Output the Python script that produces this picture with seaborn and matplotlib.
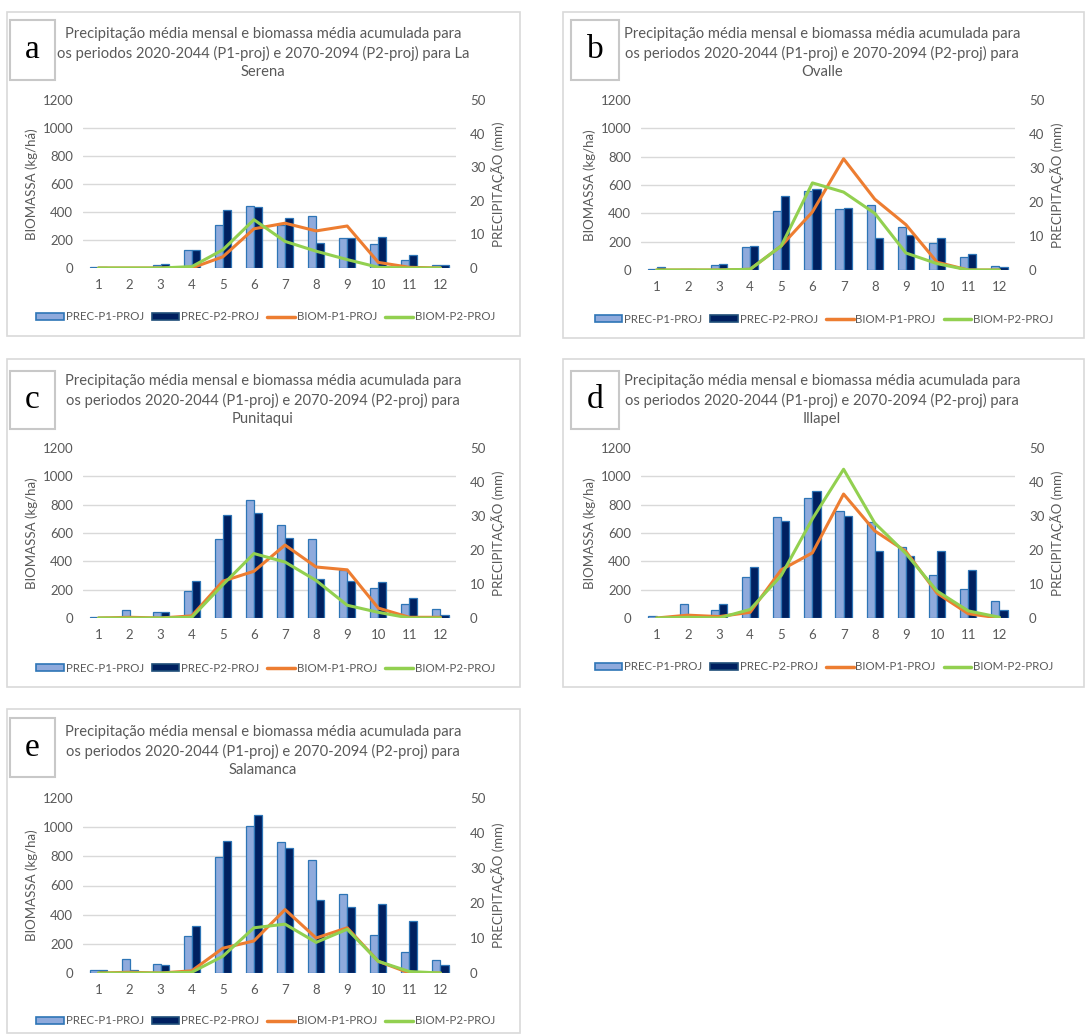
import numpy as np
import pandas as pd
import matplotlib
matplotlib.use("Agg")
import matplotlib.pyplot as plt
import seaborn as sns
from matplotlib.patches import Patch, Rectangle
from matplotlib.lines import Line2D

#  DATA

MESES = list(range(1, 13))

CIDADES = ["La Serena", "Ovalle", "Punitaqui", "Illapel", "Salamanca"]
LETRAS = ["a", "b", "c", "d", "e"]
UNIDADE_BIOM = ["(kg/há)", "(kg/ha)", "(kg/ha)", "(kg/ha)", "(kg/ha)"]

# precipitação média mensal (mm)
prec_p1 = {
    "La Serena": [0.2, 0.0, 0.8, 5.4, 12.9, 18.5, 12.9, 15.6, 9.0, 7.1, 2.5, 0.8],
    "Ovalle":    [0.2, 0.4, 1.5, 6.9, 17.3, 23.3, 17.9, 19.0, 12.5, 7.9, 3.8, 1.3],
    "Punitaqui": [0.2, 2.5, 1.7, 7.9, 23.1, 34.8, 27.3, 23.3, 14.2, 8.8, 4.0, 2.7],
    "Illapel":   [0.6, 4.0, 2.3, 12.1, 29.6, 35.2, 31.5, 28.3, 21.0, 12.7, 8.5, 5.0],
    "Salamanca": [0.8, 4.0, 2.5, 10.6, 33.1, 41.9, 37.3, 32.3, 22.5, 11.0, 6.0, 3.8],
}
prec_p2 = {
    "La Serena": [0.4, 0.0, 1.2, 5.4, 17.3, 18.1, 14.8, 7.3, 9.0, 9.2, 4.0, 0.8],
    "Ovalle":    [0.8, 0.2, 1.7, 7.1, 21.7, 23.8, 18.3, 9.4, 10.4, 9.4, 4.6, 1.0],
    "Punitaqui": [0.4, 0.0, 1.7, 10.8, 30.4, 30.8, 23.5, 11.5, 10.8, 10.6, 5.8, 0.8],
    "Illapel":   [0.4, 0.0, 4.0, 15.0, 28.5, 37.3, 30.0, 19.8, 18.1, 19.6, 14.0, 2.5],
    "Salamanca": [0.8, 0.8, 2.3, 13.5, 37.7, 45.2, 35.6, 20.8, 19.0, 19.6, 14.8, 2.3],
}

# biomassa média acumulada (kg/ha)
biom_p1 = {
    "La Serena": [0, 0, 0, 0, 80, 280, 320, 265, 300, 40, 5, 0],
    "Ovalle":    [0, 0, 0, 5, 170, 410, 785, 500, 320, 55, 0, 0],
    "Punitaqui": [0, 5, 0, 15, 260, 330, 515, 360, 340, 70, 5, 5],
    "Illapel":   [0, 20, 10, 40, 340, 460, 875, 615, 470, 175, 30, 0],
    "Salamanca": [0, 5, 0, 15, 170, 220, 435, 240, 310, 80, 0, 0],
}
biom_p2 = {
    "La Serena": [0, 0, 0, 10, 130, 345, 190, 120, 60, 5, 0, 0],
    "Ovalle":    [0, 0, 0, 5, 170, 615, 550, 400, 120, 45, 0, 0],
    "Punitaqui": [0, 0, 0, 5, 235, 455, 395, 265, 90, 40, 0, 0],
    "Illapel":   [0, 5, 0, 60, 300, 700, 1050, 670, 455, 190, 50, 5],
    "Salamanca": [0, 0, 0, 5, 115, 310, 335, 210, 300, 80, 10, 0],
}

SERIES_PREC = ["PREC-P1-PROJ", "PREC-P2-PROJ"]
SERIES_BIOM = ["BIOM-P1-PROJ", "BIOM-P2-PROJ"]

#  STYLE

sns.set_theme(style="white")
plt.rcParams["font.family"] = ["Lato", "DejaVu Sans"]

COR_P1 = "#8FAADC"
COR_P2 = "#002060"
COR_BORDA = "#2E75B6"
COR_LARANJA = "#ED7D31"
COR_VERDE = "#92D050"
COR_TEXTO = "#595959"
COR_GRADE = "#D9D9D9"

W, H = 1087, 1034

# layout in pixels: caixa, área do gráfico, caixa da letra, centro do título, y da legenda
LAYOUT = [
    dict(box=(7, 12, 520, 336), plot=(83, 100, 456, 268), letra=(10, 20, 55, 80), tit=(263, 53), leg=315),
    dict(box=(563, 12, 1084, 338), plot=(641, 100, 1015, 270), letra=(571, 20, 619, 80), tit=(822, 53), leg=317),
    dict(box=(7, 359, 520, 687), plot=(83, 448, 456, 618), letra=(10, 371, 55, 429), tit=(263, 400), leg=666),
    dict(box=(563, 359, 1084, 687), plot=(641, 448, 1015, 618), letra=(571, 371, 619, 429), tit=(822, 400), leg=665),
    dict(box=(7, 709, 520, 1033), plot=(83, 798, 456, 973), letra=(10, 718, 55, 777), tit=(263, 751), leg=1019),
]


def rect_fig(l, t, r, b):
    return [l / W, 1 - b / H, (r - l) / W, (b - t) / H]


fig = plt.figure(figsize=(W / 100, H / 100), dpi=100)
fig.patch.set_facecolor("white")

for i, cidade in enumerate(CIDADES):
    lay = LAYOUT[i]

    # caixa externa
    l, t, r, b = lay["box"]
    fig.add_artist(Rectangle((l / W, 1 - b / H), (r - l) / W, (b - t) / H,
                             transform=fig.transFigure, fill=False,
                             edgecolor=COR_GRADE, linewidth=1.2))
    # caixa da letra
    l, t, r, b = lay["letra"]
    fig.add_artist(Rectangle((l / W, 1 - b / H), (r - l) / W, (b - t) / H,
                             transform=fig.transFigure, fill=False,
                             edgecolor="#C8C8C8", linewidth=1.5))
    fig.text((l + r) / 2 / W, 1 - (t + b) / 2 / H, LETRAS[i],
             family="Liberation Serif", fontsize=24, color="black",
             ha="center", va="center")

    # título
    if cidade == "La Serena":
        fim1, fim2 = " La", "Serena"
    else:
        fim1, fim2 = "", cidade
    tx, ty = lay["tit"]
    fig.text(tx / W, 1 - ty / H,
             "Precipitação média mensal e biomassa média acumulada para\n"
             f"os periodos 2020-2044 (P1-proj) e 2070-2094 (P2-proj) para{fim1}\n"
             f"{fim2}",
             ha="center", va="center", fontsize=10.6, color=COR_TEXTO, linespacing=1.35)

    df_prec = pd.DataFrame({
        "mes": MESES * 2,
        "valor": prec_p1[cidade] + prec_p2[cidade],
        "serie": [SERIES_PREC[0]] * 12 + [SERIES_PREC[1]] * 12,
    })
    df_biom = pd.DataFrame({
        "mes": MESES * 2,
        "valor": biom_p1[cidade] + biom_p2[cidade],
        "serie": [SERIES_BIOM[0]] * 12 + [SERIES_BIOM[1]] * 12,
    })

    ax = fig.add_axes(rect_fig(*lay["plot"]))
    ax2 = ax.twinx()

    # barras (precipitação, eixo direito)
    sns.barplot(data=df_prec, x="mes", y="valor", hue="serie", native_scale=True,
                width=0.52, palette=[COR_P1, COR_P2], saturation=1,
                edgecolor=COR_BORDA, linewidth=0.9, legend=False, ax=ax2, zorder=3)

    # linhas (biomassa, eixo esquerdo)
    sns.lineplot(data=df_biom, x="mes", y="valor", hue="serie",
                 palette=[COR_LARANJA, COR_VERDE], linewidth=2.2,
                 legend=False, ax=ax)

    ax.set_zorder(ax2.get_zorder() + 1)
    ax.patch.set_visible(False)

    ax.set_xlim(0.5, 12.5)
    ax.set_ylim(0, 1200)
    ax2.set_ylim(0, 50)
    ax.set_yticks(np.arange(0, 1201, 200))
    ax2.set_yticks(np.arange(0, 51, 10))
    ax.set_xticks(MESES)
    ax.set_xticklabels([str(m) for m in MESES])

    # grade (linhas de 200 kg/ha e divisões dos meses) atrás das barras
    ax2.set_yticks(np.linspace(0, 50, 7), minor=True)
    ax2.set_xticks(np.arange(0.5, 13, 1), minor=True)
    ax2.grid(which="minor", color=COR_GRADE, linewidth=1)
    ax2.grid(which="major", visible=False)
    ax.grid(False)
    ax2.set_axisbelow(True)

    for a in (ax, ax2):
        for s in a.spines.values():
            s.set_visible(False)
        a.tick_params(which="both", length=0, colors=COR_TEXTO, labelsize=9.5)
    ax.tick_params(axis="y", pad=7)
    ax.tick_params(axis="x", pad=8)
    ax2.tick_params(axis="y", pad=10)

    ax.set_xlabel("")
    ax.set_ylabel(f"BIOMASSA {UNIDADE_BIOM[i]}", color=COR_TEXTO, fontsize=9.5, labelpad=3)
    ax2.set_xlabel("")
    ax2.set_ylabel("PRECIPITAÇÃO (mm)", color=COR_TEXTO, fontsize=9.5, labelpad=4)

    # legenda
    handles = [
        Patch(facecolor=COR_P1, edgecolor=COR_BORDA, linewidth=1.2),
        Patch(facecolor=COR_P2, edgecolor="#1F4E79", linewidth=1.2),
        Line2D([], [], color=COR_LARANJA, linewidth=2.5),
        Line2D([], [], color=COR_VERDE, linewidth=2.5),
    ]
    cx = (lay["plot"][0] + lay["plot"][2]) / 2 - 4
    fig.legend(handles, SERIES_PREC + SERIES_BIOM, loc="center",
               bbox_to_anchor=(cx / W, 1 - (lay["leg"] + 2) / H), ncol=4, frameon=False,
               fontsize=8.3, labelcolor=COR_TEXTO, handlelength=2.4, handleheight=0.55,
               handletextpad=0.15, columnspacing=0.7)

fig.savefig("out.png", dpi=100, facecolor="white")
